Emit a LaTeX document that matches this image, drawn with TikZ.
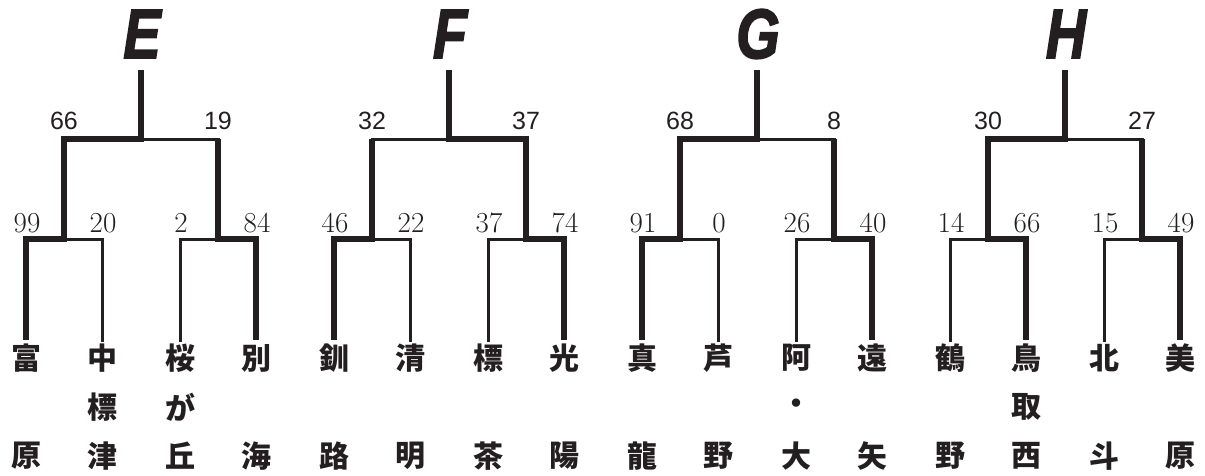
\documentclass[tikz,border=0pt]{standalone}
\usepackage{fontspec}
\newfontfamily\jpf{Noto Sans CJK JP}
\newfontfamily\sansf{Liberation Sans}
\newfontfamily\letf{Liberation Sans}[BoldItalicFeatures={FakeBold=2.5}]
\definecolor{ink}{RGB}{35,31,32}
\begin{document}
\begin{tikzpicture}[x=1pt,y=-1pt,
  win/.style={draw=ink,line width=5.5pt,line join=miter,line cap=butt},
  lose/.style={draw=ink,line width=3pt,line join=miter,line cap=rect},
  letter/.style={inner sep=0pt,text=ink,font=\letf\bfseries\itshape\fontsize{70}{70}\selectfont},
  topscore/.style={inner sep=0pt,text=ink,font=\sansf\fontsize{25}{25}\selectfont},
  leafscore/.style={inner sep=0pt,text=ink,font=\rmfamily\fontsize{29}{29}\selectfont},
  school/.style={inner sep=0pt,text=ink,font=\jpf\bfseries\fontsize{30}{30}\selectfont}]
\useasboundingbox (0,0) rectangle (1205,475);
\foreach \g/\X/\wt/\wl/\wr/\ta/\tb/\sa/\sb/\sc/\sd in {
  E/26/1/1/4/66/19/99/20/2/84,
  F/334/2/1/4/32/37/46/22/37/74,
  G/642/1/1/4/68/8/91/0/26/40,
  H/950/1/2/4/30/27/14/66/15/49}{
  \coordinate (\g-rt) at (\X+115,70);
  \coordinate (\g-r) at (\X+115,139);
  \coordinate (\g-m1t) at (\X+38,139);
  \coordinate (\g-m1) at (\X+38,239);
  \coordinate (\g-m2t) at (\X+192,139);
  \coordinate (\g-m2) at (\X+192,239);
  \coordinate (\g-l1t) at (\X,239);
  \coordinate (\g-l1) at (\X,340);
  \coordinate (\g-l2t) at (\X+76,239);
  \coordinate (\g-l2) at (\X+76,340);
  \coordinate (\g-l3t) at (\X+154,239);
  \coordinate (\g-l3) at (\X+154,340);
  \coordinate (\g-l4t) at (\X+230,239);
  \coordinate (\g-l4) at (\X+230,340);
  \ifnum\wt=1
    \def\cm{1}\def\om{2}\edef\cl{\wl}\edef\ol{\wr}
  \else
    \def\cm{2}\def\om{1}\edef\cl{\wr}\edef\ol{\wl}
  \fi
  \pgfmathtruncatemacro\ll{3-\wl}
  \pgfmathtruncatemacro\rl{7-\wr}
  \draw[lose] (\g-r) -- (\g-m\om t);
  \draw[lose] (\g-m1) -- (\g-l\ll t) -- (\g-l\ll);
  \draw[lose] (\g-m2) -- (\g-l\rl t) -- (\g-l\rl);
  \draw[win] (\g-rt) -- (\g-r) -- (\g-m\cm t) -- (\g-m\cm) -- (\g-l\cl t) -- (\g-l\cl);
  \draw[win] (\g-m\om t) -- (\g-m\om) -- (\g-l\ol t) -- (\g-l\ol);
  \node[letter] (\g-name) at (\X+116,34) {\scalebox{0.8}[1]{\g}};
  \node[topscore] (\g-ta) at (\X+38,121) {\ta};
  \node[topscore] (\g-tb) at (\X+192,121) {\tb};
  \node[leafscore] (\g-sa) at (\X+1,223) {\sa};
  \node[leafscore] (\g-sb) at (\X+77,223) {\sb};
  \node[leafscore] (\g-sc) at (\X+155,223) {\sc};
  \node[leafscore] (\g-sd) at (\X+231,223) {\sd};
}
\foreach \x/\a/\c [count=\i] in {
  26/富/原, 102/中/津, 180/桜/丘, 256/別/海,
  334/釧/路, 410/清/明, 488/標/茶, 564/光/陽,
  642/真/龍, 718/芦/野, 796/阿/大, 872/遠/矢,
  950/鶴/野, 1026/鳥/西, 1104/北/斗, 1180/美/原}{
  \node[school] (n\i a) at (\x,358) {\a};
  \node[school] (n\i c) at (\x,456) {\c};
}
\foreach \x/\b [count=\i] in {102/標, 180/が, 796/・, 1026/取}{
  \node[school] (m\i b) at (\x,407) {\b};
}
\end{tikzpicture}
\end{document}
